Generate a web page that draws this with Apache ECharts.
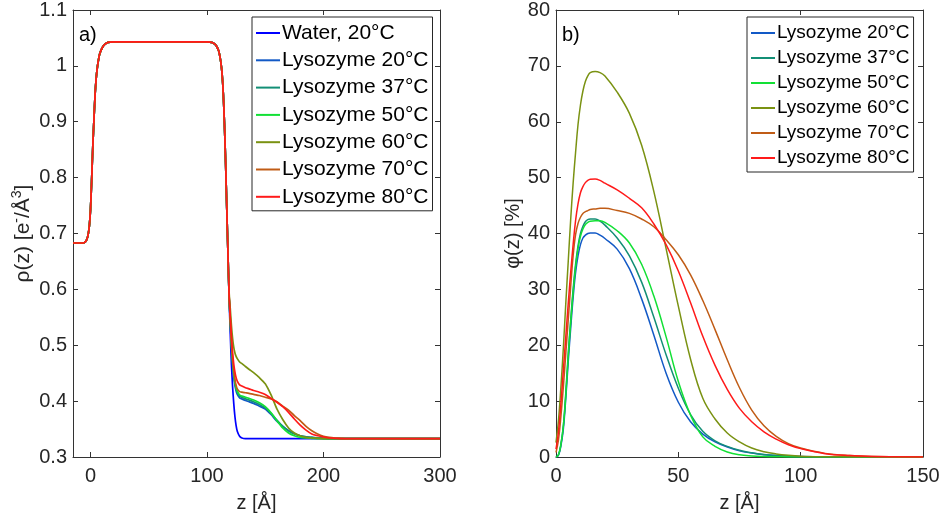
<!DOCTYPE html>
<html>
<head>
<meta charset="utf-8">
<script src="https://cdn.jsdelivr.net/npm/echarts@6/dist/echarts.min.js"></script>
<style>
html,body{margin:0;padding:0;background:#fff;}
#c{width:945px;height:524px;}
</style>
</head>
<body>
<div id="c"></div>
<script>
// ---------- Panel a) electron density profiles ----------
const commonZ   = [-15,-8,-5,-4,-3,-2,-1,0,1,2,3,4,5,6,7,8,10,12,15,20,60,100,104,106,108,110,111,112,113,114,115,116,117,118];
const commonRho = [0.683,0.683,0.684,0.686,0.690,0.698,0.713,0.742,0.795,0.855,0.905,0.950,0.980,0.999,1.012,1.022,1.032,1.038,1.042,1.043,1.043,1.043,1.042,1.040,1.036,1.027,1.018,1.005,0.985,0.950,0.895,0.826,0.745,0.665];
const tailZ     = [119,120,121,122,123,124,125,126,128,130,133,136,140,145,150,155,160,165,170,175,180,185,190,195,200,205,210,215,220,230,250,300];
const rhoWater20 = [0.585,0.52,0.465,0.425,0.395,0.372,0.356,0.346,0.337,0.334,0.333,0.333,0.333,0.333,0.333,0.333,0.333,0.333,0.333,0.333,0.333,0.333,0.333,0.333,0.333,0.333,0.333,0.333,0.333,0.333,0.333,0.333];
const rhoLys20 = [0.585,0.54,0.497,0.465,0.443,0.428,0.418,0.412, 0.406,0.404,0.401,0.399,0.396, 0.391,0.386,0.376,0.364,0.355, 0.347,0.342,0.338,0.336,0.335, 0.334,0.3335,0.333,0.333,0.333, 0.333,0.333,0.333,0.333];
const rhoLys37 = [0.586,0.542,0.5,0.469,0.447,0.432,0.422,0.416, 0.409,0.407,0.404,0.402,0.399, 0.394,0.388,0.378,0.366,0.355, 0.347,0.341,0.338,0.336,0.335, 0.334,0.3335,0.333,0.333,0.333, 0.333,0.333,0.333,0.333];
const rhoLys50 = [0.586,0.543,0.502,0.471,0.449,0.434,0.424,0.418, 0.411,0.409,0.407,0.405,0.402, 0.397,0.390,0.379,0.365,0.352, 0.343,0.338,0.335,0.334,0.3335, 0.333,0.333,0.333,0.333,0.333, 0.333,0.333,0.333,0.333];
const rhoLys60 = [0.595,0.565,0.535,0.512,0.496,0.486,0.480,0.476, 0.470,0.467,0.462,0.457,0.451, 0.442,0.431,0.411,0.386,0.367, 0.352,0.343,0.338,0.335,0.334, 0.3335,0.333,0.333,0.333,0.333, 0.333,0.333,0.333,0.333];
const rhoLys70 = [0.588,0.545,0.505,0.475,0.453,0.438,0.428,0.422, 0.417,0.416,0.415,0.414,0.412, 0.410,0.407,0.404,0.399,0.391, 0.384,0.374,0.365,0.355,0.347, 0.341,0.337,0.335,0.334,0.3335, 0.333,0.333,0.333,0.333];
const rhoLys80 = [0.59,0.55,0.515,0.487,0.466,0.452,0.442,0.436, 0.429,0.427,0.424,0.422,0.419, 0.416,0.412,0.405,0.398,0.390, 0.380,0.368,0.357,0.348,0.341, 0.338,0.336,0.334,0.3335,0.333, 0.333,0.333,0.333,0.333];

// ---------- Panel b) volume fraction profiles ----------
const zPhi = [0,1,2,3,4,5,6,7,8,9,10,11,12,13,14,16,18,20,25,30,35,40,45,50,55,60,65,70,75,80,85,90,95,100,110,120,130,150];
const phiLys20 = [0,0.3,2.0,5.0,10.5,17,23,28.5,33,36,38,39.2,39.7,40,40.1,40.1,39.7,39.1,37.2,33.7,28.3,21.8,15,9.8,6.3,4.1,2.7,1.8,1.1,0.7,0.4,0.25,0.15,0.1,0.04,0.02,0.01,0];
const phiLys37 = [0,0.4,2.3,5.6,11.5,18.5,24.5,30,34.5,37.8,40,41.3,42.1,42.5,42.6,42.6,42.2,41.5,39.2,36,31.3,25,18.3,12.3,7.6,4.6,2.9,1.9,1.2,0.75,0.45,0.28,0.17,0.1,0.04,0.02,0.01,0];
const phiLys50 = [0,0.4,2.2,5.5,11,18,24,29.5,34,37.3,39.5,40.8,41.6,42,42.2,42.3,42.3,42,40.5,38.3,34.5,28.8,21.5,13.5,7.5,3.6,1.9,0.9,0.4,0.2,0.1,0.05,0.02,0.01,0,0,0,0];
const phiLys60 = [2.6,6.5,12.5,19.5,27.5,35,42.5,49,54.5,59.5,63,65.5,67.2,68.2,68.8,69,68.8,68.2,65.3,61.5,55.8,47.5,37.3,27,17.5,10.5,6.8,4.3,2.7,1.6,0.95,0.55,0.3,0.15,0.05,0.02,0.01,0];
const phiLys70 = [0.8,3,7.2,12.5,18.5,24.5,30.5,36,39.8,41.8,42.9,43.6,43.9,44.1,44.3,44.4,44.5,44.5,44.1,43.6,42.6,41.2,38.9,36.2,32.6,28,22.8,17.4,12.4,8.4,5.6,3.7,2.4,1.6,0.65,0.25,0.1,0];
const phiLys80 = [1.4,4.5,9.5,15.5,21.5,27.5,33,38,42.3,45.3,47.3,48.4,49.1,49.5,49.7,49.75,49.5,49,47.8,46.3,44.6,41.7,38,33.3,27.6,21.6,16.4,12.1,8.7,6.3,4.5,3.2,2.2,1.5,0.6,0.25,0.1,0];

const namesA = ['Water, 20°C','Lysozyme 20°C','Lysozyme 37°C','Lysozyme 50°C','Lysozyme 60°C','Lysozyme 70°C','Lysozyme 80°C'];
const namesB = ['Lysozyme 20°C','Lysozyme 37°C','Lysozyme 50°C','Lysozyme 60°C','Lysozyme 70°C','Lysozyme 80°C'];
const colors = {'Water, 20°C':'#0000ff','Lysozyme 20°C':'#1259c6','Lysozyme 37°C':'#138f76','Lysozyme 50°C':'#12e035','Lysozyme 60°C':'#7a9212','Lysozyme 70°C':'#c05c16','Lysozyme 80°C':'#ff1a1a'};
const xTicksA = [0,100,200,300];

const tailsA = [rhoWater20,rhoLys20,rhoLys37,rhoLys50,rhoLys60,rhoLys70,rhoLys80];
const valsB = [phiLys20,phiLys37,phiLys50,phiLys60,phiLys70,phiLys80];

const FONT = 'Liberation Sans, Arial, Helvetica, sans-serif';
const AX = '#333333';
const TXT = '#262626';

function pairs(zs, vs){ return zs.map((z,i)=>[z, vs[i]]); }

const series = [];
namesA.forEach((n,i)=>{
  const d = pairs(commonZ, commonRho).concat(pairs(tailZ, tailsA[i]));
  series.push({name:n, type:'line', xAxisIndex:0, yAxisIndex:0, data:d, showSymbol:false, symbol:'none',
    smooth:0.25, lineStyle:{width:1.7, color:colors[n]}, itemStyle:{color:colors[n]}, animation:false});
});
namesB.forEach((n,i)=>{
  series.push({name:n, type:'line', xAxisIndex:2, yAxisIndex:2, data:pairs(zPhi, valsB[i]), showSymbol:false, symbol:'none',
    smooth:0.4, lineStyle:{width:1.5, color:colors[n]}, itemStyle:{color:colors[n]}, animation:false});
});

function xAx(grid, min, max, opts){
  return Object.assign({gridIndex:grid, type:'value', min:min, max:max, position:'bottom',
    axisLine:{onZero:false, lineStyle:{color:AX, width:1}},
    axisTick:{inside:true, length:5, lineStyle:{color:AX}},
    axisLabel:{color:TXT, fontSize:20, fontFamily:FONT, margin:9},
    splitLine:{show:false},
    nameTextStyle:{color:TXT, fontSize:20, fontFamily:FONT}}, opts);
}
function yAx(grid, min, max, opts){
  return Object.assign({gridIndex:grid, type:'value', min:min, max:max, position:'left',
    axisLine:{show:true, onZero:false, lineStyle:{color:AX, width:1}},
    axisTick:{show:true, inside:true, length:5, lineStyle:{color:AX}},
    axisLabel:{color:TXT, fontSize:20, fontFamily:FONT, margin:6},
    splitLine:{show:false},
    nameTextStyle:{color:TXT, fontSize:20, fontFamily:FONT}}, opts);
}

const option = {
  backgroundColor:'#ffffff',
  animation:false,
  textStyle:{fontFamily:FONT},
  grid:[
    {left:73, right:505, top:10, bottom:67, containLabel:false},
    {left:556, right:22, top:10, bottom:67, containLabel:false}
  ],
  title:[
    {text:'a)', left:79, top:25, padding:0, textStyle:{fontSize:20, fontWeight:'normal', color:'#000', fontFamily:FONT}},
    {text:'b)', left:562, top:25, padding:0, textStyle:{fontSize:20, fontWeight:'normal', color:'#000', fontFamily:FONT}}
  ],
  legend:[
    {data:namesA, orient:'vertical', left:252, top:17, padding:[5,4,3,4], itemGap:5.3, itemWidth:24, itemHeight:2, icon:'rect',
     borderColor:'#262626', borderWidth:1, backgroundColor:'#ffffff', selectedMode:false,
     textStyle:{fontSize:21, color:'#000', fontFamily:FONT, lineHeight:22, padding:[0,0,0,-3]}},
    {data:namesB, orient:'vertical', left:747, top:17, padding:[5,4,3,4], itemGap:3, itemWidth:24, itemHeight:2, icon:'rect',
     borderColor:'#262626', borderWidth:1, backgroundColor:'#ffffff', selectedMode:false,
     textStyle:{fontSize:19, color:'#000', fontFamily:FONT, lineHeight:22, padding:[0,0,0,-3]}}
  ],
  xAxis:[
    xAx(0, -15, 300, {name:'z [Å]', nameLocation:'middle', nameGap:36,
      axisTick:{inside:true, length:5, lineStyle:{color:AX}, customValues:xTicksA},
      axisLabel:{color:TXT, fontSize:20, fontFamily:FONT, margin:9, customValues:xTicksA}}),
    xAx(0, -15, 300, {position:'top',
      axisTick:{inside:true, length:5, lineStyle:{color:AX}, customValues:xTicksA},
      axisLabel:{show:false}}),
    xAx(1, 0, 150, {interval:50, name:'z [Å]', nameLocation:'middle', nameGap:36}),
    xAx(1, 0, 150, {interval:50, position:'top', axisLabel:{show:false}})
  ],
  yAxis:[
    yAx(0, 0.3, 1.1, {interval:0.1, name:'ρ(z) [e{sup|-}/Å{sup|3}]', nameLocation:'middle', nameGap:30,
      axisLabel:{color:TXT, fontSize:20, fontFamily:FONT, margin:6, formatter:v=>String(Math.round(v*10)/10)},
      nameTextStyle:{color:TXT, fontSize:21, fontFamily:FONT, lineHeight:25,
        rich:{sup:{fontSize:14, color:TXT, fontFamily:FONT, verticalAlign:'top', lineHeight:14}}}}),
    yAx(0, 0.3, 1.1, {interval:0.1, position:'right', axisLabel:{show:false}}),
    yAx(1, 0, 80, {interval:10, name:'φ(z) [%]', nameLocation:'middle', nameGap:32}),
    yAx(1, 0, 80, {interval:10, position:'right', axisLabel:{show:false}})
  ],
  series:series
};

const chart = echarts.init(document.getElementById('c'), null, {renderer:'canvas'});
chart.setOption(option);
</script>
</body>
</html>
